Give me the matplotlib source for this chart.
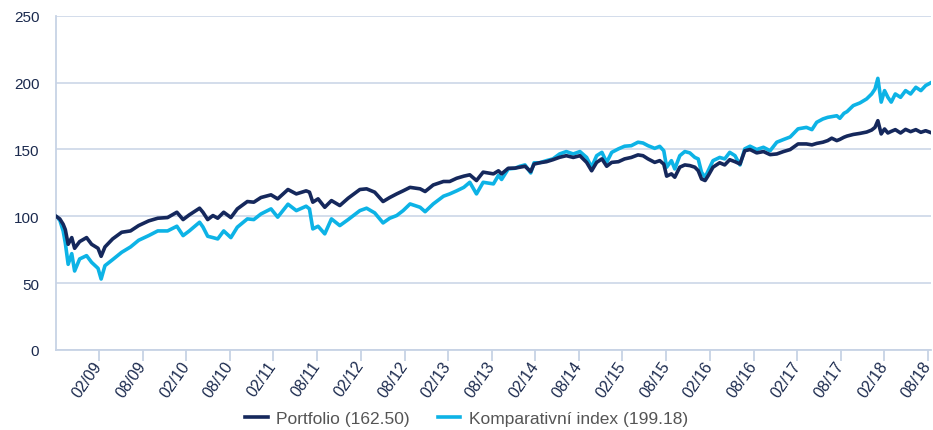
import pandas as pd
import matplotlib
matplotlib.use("Agg")
import matplotlib.pyplot as plt
import matplotlib.dates as mdates

plt.rcParams["font.family"] = ["Liberation Sans", "DejaVu Sans"]

# values (index, start = 100)
dates = [
    "2008-09-01", "2008-09-17", "2008-10-01", "2008-10-10", "2008-10-22", "2008-11-06",
    "2008-11-18", "2008-12-09", "2009-01-07", "2009-01-28", "2009-02-24", "2009-03-09",
    "2009-03-25", "2009-04-26", "2009-06-03", "2009-07-10", "2009-08-13", "2009-09-24",
    "2009-11-01", "2009-12-12", "2010-01-20", "2010-02-15", "2010-03-13", "2010-04-25",
    "2010-05-09", "2010-05-29", "2010-06-20", "2010-07-10", "2010-08-04", "2010-09-03",
    "2010-09-30", "2010-11-11", "2010-12-08", "2011-01-07", "2011-02-18", "2011-03-18",
    "2011-04-30", "2011-06-04", "2011-07-15", "2011-07-29", "2011-08-12", "2011-09-03",
    "2011-10-01", "2011-10-29", "2011-12-03", "2012-01-07", "2012-02-25", "2012-03-24",
    "2012-04-27", "2012-06-01", "2012-06-29", "2012-07-28", "2012-08-24", "2012-09-22",
    "2012-11-03", "2012-11-24", "2012-12-28", "2013-02-09", "2013-03-07", "2013-04-05",
    "2013-05-05", "2013-05-30", "2013-06-27", "2013-07-25", "2013-09-06", "2013-09-27",
    "2013-10-10", "2013-11-07", "2013-12-05", "2013-12-26", "2014-01-16", "2014-02-09",
    "2014-02-23", "2014-03-18", "2014-04-16", "2014-05-13", "2014-06-10", "2014-07-08",
    "2014-08-06", "2014-09-03", "2014-10-01", "2014-10-22", "2014-11-12", "2014-12-04",
    "2014-12-24", "2015-01-14", "2015-02-11", "2015-03-09", "2015-04-06", "2015-05-04",
    "2015-05-25", "2015-06-15", "2015-07-13", "2015-08-03", "2015-08-20", "2015-09-01",
    "2015-09-21", "2015-10-05", "2015-10-26", "2015-11-16", "2015-12-07", "2015-12-28",
    "2016-01-11", "2016-01-25", "2016-02-09", "2016-02-22", "2016-03-13", "2016-04-10",
    "2016-05-01", "2016-05-22", "2016-06-13", "2016-07-04", "2016-07-24", "2016-08-15",
    "2016-09-12", "2016-10-10", "2016-11-07", "2016-12-05", "2017-01-02", "2017-01-30",
    "2017-03-04", "2017-04-08", "2017-05-01", "2017-05-21", "2017-06-16", "2017-07-06",
    "2017-07-23", "2017-08-13", "2017-08-26", "2017-09-12", "2017-09-25", "2017-10-21",
    "2017-11-18", "2017-12-16", "2018-01-06", "2018-01-20", "2018-02-01", "2018-02-15",
    "2018-03-01", "2018-03-15", "2018-03-29", "2018-04-15", "2018-05-07", "2018-05-28",
    "2018-06-18", "2018-07-10", "2018-07-31", "2018-08-20", "2018-09-12",
]

portfolio = [
    100, 98, 94, 90, 79, 84,
    76, 81, 84, 79, 76, 70,
    77, 83, 88, 89, 93, 96.5,
    98.5, 99, 103, 97.5, 101, 106,
    103, 97.5, 100.5, 98.5, 103, 99,
    105.5, 111, 110.5, 114, 116, 113,
    120, 116.7, 119, 118, 110.5, 113,
    106.7, 111.7, 108, 113.5, 120, 120.5,
    118, 111, 114, 116.7, 119, 121.6,
    120.5, 118.5, 123.4, 126, 126, 128.4,
    130, 131, 126.7, 133, 131.7, 134,
    131.7, 135.9, 136, 136.7, 137.4, 133.4,
    139, 140, 140.8, 142.3, 144.1, 145.3,
    144, 145.3, 140.3, 134, 140.3, 142.9,
    137.4, 140.3, 140.8, 142.9, 144, 145.9,
    145.3, 142.9, 140.3, 141.6, 139, 130,
    131.7, 129.2, 136.7, 138.4, 137.9, 136.7,
    134.1, 127.9, 126.7, 130.4, 136.7, 140,
    138.4, 142.3, 140.8, 139.1, 149, 149.9,
    147.4, 148.4, 146.1, 146.6, 148.4, 149.9,
    154.1, 154.1, 153.4, 154.5, 155.4, 156.6,
    158.4, 156.6, 157.5, 159.1, 160, 161.2,
    162, 163, 164.5, 166.5, 171.5, 161.6,
    165.3, 162.3, 163.5, 164.8, 162.3, 165,
    163.3, 164.8, 162.8, 164, 162.5,
]

komparativni_index = [
    100, 97, 89, 80, 64, 72,
    59, 68, 70.5, 65.5, 61, 53,
    63, 67.5, 73, 77, 82, 85.5,
    89, 89, 92.5, 85.5, 89, 95.5,
    92, 85, 84, 83, 89, 84,
    91.8, 98, 97.5, 101.7, 105.5, 99.3,
    109, 104.2, 107.5, 105.5, 90.5, 92.5,
    86.8, 98, 93, 97.5, 104.2, 106,
    102.5, 95, 98.5, 100.5, 104.2, 109.2,
    106.7, 103.4, 109.2, 115, 116.7, 119,
    121.6, 125.4, 116.7, 125.4, 124.2, 130.6,
    127.5, 135.4, 135.9, 137.4, 138.4, 132.4,
    140, 140, 141.6, 142.9, 146.6, 148.4,
    146.6, 148.4, 144, 136.7, 145.3, 147.8,
    140.3, 147.8, 150.4, 152.4, 152.8, 155.4,
    154.8, 152.8, 150.8, 152.3, 149, 136.7,
    141.6, 135.4, 145.3, 148.4, 147.4, 144,
    142.9, 132.9, 129.2, 134.1, 141.6, 144,
    142.9, 147.8, 145.3, 138.4, 150.4, 152.4,
    149.9, 151.6, 149, 155.4, 157.4, 159.3,
    165.4, 166.5, 164.8, 170.3, 172.8, 174,
    174.5, 175.2, 173.3, 177, 178.3, 182.8,
    184.8, 187.8, 191.5, 195.2, 203.2, 185.4,
    194, 189, 185.4, 191.5, 189, 194,
    191.5, 196.5, 194, 197.8, 200,
]

labels = ["Portfolio (162.50)", "Komparativní index (199.18)"]
colors = ["#15285c", "#0db3e6"]

# ticks at the end of February and August
tick_dates = []
for year in range(2009, 2019):
    for month in (2, 8):
        tick_dates.append(pd.Timestamp(year, month, 1) + pd.offsets.MonthEnd(0))

x = pd.to_datetime(dates)
grid_col = "#c7d3e5"
text_col = "#1b2a4e"

fig = plt.figure(figsize=(9.33, 4.31), dpi=100)
ax = fig.add_axes([0.060, 0.186, 0.938, 0.775])

ax.plot(x, portfolio, color=colors[0], lw=2.6, label=labels[0], zorder=3)
ax.plot(x, komparativni_index, color=colors[1], lw=2.6, label=labels[1], zorder=2)

ax.set_ylim(0, 250)
ax.set_yticks([0, 50, 100, 150, 200, 250])
ax.set_xlim(pd.Timestamp("2008-09-01"), pd.Timestamp("2018-09-12"))
ax.set_xticks(tick_dates)
ax.xaxis.set_major_formatter(mdates.DateFormatter("%m/%y"))

ax.yaxis.grid(True, color=grid_col, lw=1.1)
ax.set_axisbelow(True)
for s in ["top", "right"]:
    ax.spines[s].set_visible(False)
for s in ["left", "bottom"]:
    ax.spines[s].set_color(grid_col)
    ax.spines[s].set_linewidth(1.3)

ax.tick_params(axis="y", length=0, pad=12, labelsize=11, labelcolor=text_col)
ax.tick_params(axis="x", length=8, width=1.3, color=grid_col, pad=1,
               labelsize=11.5, labelcolor=text_col)
for lab in ax.get_xticklabels():
    lab.set_rotation(55)
    lab.set_rotation_mode("anchor")
    lab.set_ha("right")
    lab.set_va("center")

leg = fig.legend(loc="lower center", bbox_to_anchor=(0.5, -0.028), ncol=2,
                 frameon=False, fontsize=12.5, handlelength=1.3, columnspacing=1.6,
                 handletextpad=0.5)
for t in leg.get_texts():
    t.set_color("#555555")

fig.savefig("out.png", dpi=100)
